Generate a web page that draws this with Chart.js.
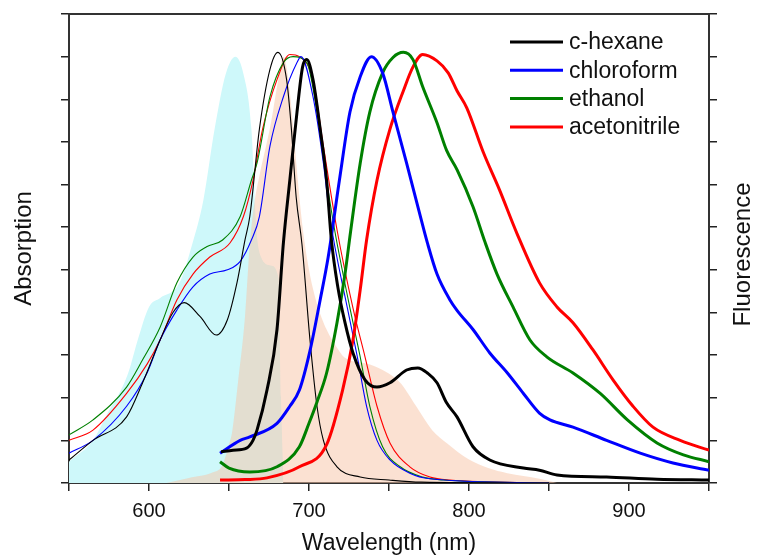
<!DOCTYPE html>
<html>
<head>
<meta charset="utf-8">
<script src="https://cdn.jsdelivr.net/npm/chart.js@4.4.1/dist/chart.umd.min.js"></script>
<style>
  body { margin: 0; background: #fff; }
  #wrap { width: 759px; height: 557px; }
</style>
</head>
<body>
<div id="wrap"><canvas id="spectra" width="759" height="557"></canvas></div>
<script>
// shaded reference spectra
const cyanX = [550, 565, 575, 580, 587, 593, 600, 607, 619, 627, 634, 641, 648, 654, 659, 664, 667, 670, 676, 681, 682.5, 684];
const cyanY = [0.05, 0.1, 0.17, 0.2, 0.258, 0.336, 0.413, 0.434, 0.469, 0.56, 0.664, 0.83, 0.96, 1.0, 0.96, 0.83, 0.6, 0.53, 0.51, 0.48, 0.2, 0];
const peachX = [611, 625, 640, 645.6, 650, 652, 655.6, 660, 663, 666, 669, 676, 681, 684, 687, 690, 693, 696, 700, 705, 711, 717, 722, 736, 746, 757, 767, 777, 786, 800, 812, 824, 844, 855];
const peachY = [0, 0.012, 0.025, 0.04, 0.09, 0.12, 0.235, 0.39, 0.56, 0.66, 0.72, 0.84, 0.95, 1.0, 0.95, 0.84, 0.71, 0.6, 0.5, 0.42, 0.36, 0.32, 0.295, 0.28, 0.265, 0.235, 0.18, 0.124, 0.094, 0.055, 0.035, 0.023, 0.01, 0];

// absorption (thin lines)
const absHexX = [550, 565, 586, 596, 607, 615, 622, 632, 642, 649, 655, 660, 663, 669, 675.6, 680.6, 686, 689, 692, 695.6, 700.6, 705, 709, 717.5, 732, 750, 770, 850];
const absHexY = [0.054, 0.1, 0.155, 0.235, 0.336, 0.4, 0.423, 0.39, 0.347, 0.383, 0.47, 0.57, 0.625, 0.83, 0.97, 1.01, 0.946, 0.83, 0.67, 0.56, 0.336, 0.18, 0.1, 0.038, 0.014, 0.007, 0.002, 0];
const absChlX = [550, 565, 586, 599, 607, 617.5, 627.5, 638, 649, 657, 664, 669, 675.6, 684, 692.5, 695, 702.5, 709, 713, 724, 730, 736, 742.5, 750.6, 763, 775.6, 850];
const absChlY = [0.07, 0.1, 0.18, 0.26, 0.336, 0.406, 0.46, 0.49, 0.5, 0.52, 0.57, 0.625, 0.79, 0.906, 0.986, 1.0, 0.906, 0.75, 0.625, 0.41, 0.3, 0.18, 0.1, 0.054, 0.023, 0.01, 0];
const absEthX = [550, 565, 586, 596, 607, 617.5, 627.5, 636, 646, 657, 664, 667.5, 675.6, 684, 690, 698.6, 705, 711, 716, 725.6, 732, 738, 746, 757, 771, 784, 850];
const absEthY = [0.113, 0.148, 0.225, 0.289, 0.366, 0.47, 0.53, 0.554, 0.57, 0.625, 0.71, 0.75, 0.906, 0.986, 1.0, 0.986, 0.87, 0.71, 0.594, 0.41, 0.296, 0.18, 0.085, 0.038, 0.014, 0.007, 0];
const absAceX = [550, 565, 586, 599, 607, 617.5, 627.5, 638, 650.6, 659, 665, 671, 680, 688, 694, 702.5, 709, 717.5, 727.5, 735, 742.5, 750.6, 763, 775.6, 788, 850];
const absAceY = [0.1, 0.124, 0.21, 0.28, 0.336, 0.43, 0.49, 0.53, 0.563, 0.625, 0.71, 0.83, 0.946, 1.005, 1.0, 0.946, 0.79, 0.594, 0.41, 0.296, 0.18, 0.094, 0.038, 0.014, 0.007, 0];

// fluorescence (thick lines)
const flHexX = [645, 652.5, 661, 665, 667.5, 673.75, 680, 684, 688, 692.5, 696, 698.6, 702.5, 707, 711, 714, 718, 722.5, 727.5, 735, 742.5, 750.6, 761, 768, 774, 780, 786, 792.5, 802.5, 813, 834, 844, 855, 886, 917.5, 950];
const flHexY = [0.073, 0.077, 0.082, 0.1, 0.124, 0.218, 0.36, 0.563, 0.71, 0.87, 0.976, 0.993, 0.946, 0.83, 0.71, 0.57, 0.46, 0.376, 0.305, 0.242, 0.225, 0.235, 0.265, 0.27, 0.258, 0.235, 0.188, 0.155, 0.085, 0.054, 0.035, 0.03, 0.019, 0.014, 0.009, 0.007];
const flChlX = [644.4, 657, 663, 680, 688, 694, 700.6, 707, 712, 719, 725.6, 732, 739, 746, 752.5, 761, 769, 774, 780, 788, 792.5, 802.5, 813, 824, 834, 844, 850.6, 865, 886, 907, 927.5, 950];
const flChlY = [0.07, 0.1, 0.108, 0.14, 0.18, 0.218, 0.31, 0.43, 0.53, 0.71, 0.87, 0.953, 1.0, 0.962, 0.87, 0.75, 0.634, 0.563, 0.49, 0.43, 0.405, 0.36, 0.305, 0.258, 0.21, 0.164, 0.148, 0.131, 0.1, 0.07, 0.047, 0.03];
const flEthX = [644.4, 650, 663, 680, 694, 700, 705, 711, 717.5, 722.5, 726, 732, 738, 746, 752.5, 759, 765, 771, 780, 786, 792.5, 802.5, 810, 817.5, 827.5, 838, 848.6, 865, 882, 899, 917.5, 934, 950];
const flEthY = [0.05, 0.035, 0.026, 0.038, 0.085, 0.14, 0.19, 0.258, 0.376, 0.49, 0.59, 0.75, 0.87, 0.962, 0.998, 1.01, 0.993, 0.93, 0.845, 0.78, 0.735, 0.648, 0.565, 0.49, 0.413, 0.336, 0.296, 0.258, 0.21, 0.148, 0.094, 0.066, 0.05];
const flAceX = [644.4, 660, 673.75, 694, 711, 721, 727.5, 732, 736, 742.5, 750.6, 759, 765, 771, 780, 787, 792.5, 798.6, 809, 819, 830, 844, 855, 865, 877.5, 890, 902.5, 915, 932, 950];
const flAceY = [0.007, 0.008, 0.012, 0.038, 0.09, 0.218, 0.336, 0.453, 0.57, 0.71, 0.83, 0.92, 0.976, 1.005, 0.99, 0.962, 0.92, 0.88, 0.775, 0.688, 0.585, 0.47, 0.413, 0.376, 0.312, 0.242, 0.18, 0.131, 0.1, 0.077];

const solvents = ['c-hexane', 'chloroform', 'ethanol', 'acetonitrile'];
const colors = ['#000000', '#0000ff', '#008000', '#ff0000'];
const xTicks = [600, 700, 800, 900];

const pts = (xs, ys) => xs.map((x, i) => ({ x: x, y: ys[i] }));

const FONT = "'Liberation Sans', Arial, sans-serif";

const absSets = [[absHexX, absHexY], [absChlX, absChlY], [absEthX, absEthY], [absAceX, absAceY]];
const flSets = [[flHexX, flHexY], [flChlX, flChlY], [flEthX, flEthY], [flAceX, flAceY]];

const datasets = [];
flSets.forEach((s, i) => {
  datasets.push({
    label: solvents[i],
    data: pts(s[0], s[1]),
    borderColor: colors[i],
    borderWidth: 3,
    pointRadius: 0,
    fill: false,
    cubicInterpolationMode: 'monotone',
    order: 1,
    isFl: true
  });
});
absSets.forEach((s, i) => {
  datasets.push({
    label: solvents[i] + ' abs',
    data: pts(s[0], s[1]),
    borderColor: colors[i],
    borderWidth: 1.1,
    pointRadius: 0,
    fill: false,
    cubicInterpolationMode: 'monotone',
    order: 2
  });
});
datasets.push({
  label: 'peach',
  data: pts(peachX, peachY),
  borderWidth: 0,
  borderColor: 'rgba(0,0,0,0)',
  backgroundColor: 'rgba(247,196,166,0.5)',
  pointRadius: 0,
  fill: 'origin',
  cubicInterpolationMode: 'monotone',
  order: 3
});
datasets.push({
  label: 'cyan',
  data: pts(cyanX, cyanY),
  borderWidth: 0,
  borderColor: 'rgba(0,0,0,0)',
  backgroundColor: 'rgb(206,248,250)',
  pointRadius: 0,
  fill: 'origin',
  cubicInterpolationMode: 'monotone',
  order: 4
});

// legend inside the plot, top right
const legendBox = {
  id: 'legendBox',
  afterDraw(chart) {
    const c = chart.ctx, a = chart.chartArea;
    c.save();
    c.font = '23px ' + FONT;
    c.textBaseline = 'middle';
    chart.data.datasets.filter(d => d.isFl).forEach((d, i) => {
      const y = a.top + 28 + i * 28.3;
      c.strokeStyle = d.borderColor;
      c.lineWidth = 3;
      c.beginPath();
      c.moveTo(a.right - 199, y);
      c.lineTo(a.right - 146, y);
      c.stroke();
      c.fillStyle = '#111';
      c.fillText(d.label, a.right - 140, y + 1);
    });
    c.restore();
  }
};

// right axis title reads bottom-to-top like the left one
const rightTitle = {
  id: 'rightTitle',
  afterDraw(chart) {
    const c = chart.ctx, a = chart.chartArea;
    c.save();
    c.translate(a.right + 34, (a.top + a.bottom) / 2 + 6);
    c.rotate(-Math.PI / 2);
    c.font = '24px ' + FONT;
    c.fillStyle = '#111';
    c.textAlign = 'center';
    c.textBaseline = 'middle';
    c.fillText('Fluorescence', 0, 0);
    c.restore();
  }
};

const tickGrid = { drawOnChartArea: false, tickLength: 8, color: '#222', lineWidth: 1.5 };
const frame = { color: '#333', width: 2 };

new Chart(document.getElementById('spectra'), {
  type: 'line',
  data: { datasets: datasets },
  options: {
    responsive: false,
    animation: false,
    devicePixelRatio: 1,
    plugins: { legend: { display: false }, tooltip: { enabled: false } },
    scales: {
      x: {
        type: 'linear',
        position: 'bottom',
        min: 550,
        max: 950,
        afterFit: s => { s.height = 74; },
        ticks: {
          stepSize: 50,
          autoSkip: false,
          maxRotation: 0,
          padding: 8,
          color: '#111',
          font: { family: FONT, size: 20 },
          callback: v => xTicks.includes(v) ? String(v) : ''
        },
        grid: tickGrid,
        border: frame,
        title: { display: true, text: 'Wavelength (nm)', color: '#111', font: { family: FONT, size: 23 }, padding: { top: 0, bottom: 0 } }
      },
      xTop: {
        type: 'linear',
        position: 'top',
        min: 550,
        max: 950,
        afterFit: s => { s.height = 14; },
        ticks: { display: false },
        grid: { display: false },
        border: frame
      },
      y: {
        position: 'left',
        min: 0,
        max: 1.1,
        afterFit: s => { s.width = 69; },
        ticks: { stepSize: 0.1, display: false },
        grid: tickGrid,
        border: frame,
        title: { display: true, text: 'Absorption', color: '#111', font: { family: FONT, size: 24 }, padding: { top: 10, bottom: 0 } }
      },
      y2: {
        position: 'right',
        min: 0,
        max: 1.1,
        afterFit: s => { s.width = 50; },
        ticks: { stepSize: 0.1, display: false },
        grid: tickGrid,
        border: frame
      }
    }
  },
  plugins: [legendBox, rightTitle]
});
</script>
</body>
</html>
